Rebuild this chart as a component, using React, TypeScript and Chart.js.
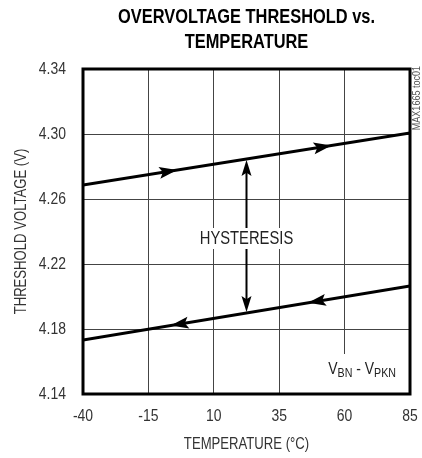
import React, { useEffect, useRef } from "react";
import { Chart, registerables } from "chart.js";

Chart.register(...registerables);

const temperatureRange = [-40, 85];
const risingThreshold = [4.2686, 4.3006];
const fallingThreshold = [4.1732, 4.2065];
const xTickValues = [-40, -15, 10, 35, 60, 85];
const yTickValues = [4.14, 4.18, 4.22, 4.26, 4.3, 4.34];
const risingArrowTemps = [-4, 55];
const fallingArrowTemps = [46, -6.5];
const hysteresisTemp = 22.5;
const hysteresisLabelValue = 4.236;
const hysteresisLabel = "HYSTERESIS";
const titleLines = ["OVERVOLTAGE THRESHOLD vs.", "TEMPERATURE"];
const xAxisTitle = "TEMPERATURE (°C)";
const yAxisTitle = "THRESHOLD VOLTAGE (V)";
const conditionParts: [string, boolean][] = [
  ["V", false],
  ["BN", true],
  [" - V", false],
  ["PKN", true],
];
const sideNote = "MAX1665 toc01";

const FONT = '"Liberation Sans", Arial, sans-serif';
const NARROW = 0.82;

// Condense all canvas text horizontally (the original uses a narrow Helvetica).
function condenseText(ctx: any) {
  if (ctx.__condensed) return;
  const orig = ctx.fillText.bind(ctx);
  ctx.fillText = (text: string, x: number, y: number, maxWidth?: number) => {
    ctx.save();
    ctx.translate(x, y);
    ctx.scale(NARROW, 1);
    if (maxWidth !== undefined) orig(text, 0, 0, maxWidth / NARROW);
    else orig(text, 0, 0);
    ctx.restore();
  };
  ctx.__condensed = true;
}

const along = (arr: number[], t: number) =>
  arr[0] + ((arr[1] - arr[0]) * (t - temperatureRange[0])) / (temperatureRange[1] - temperatureRange[0]);

function arrowHead(ctx: CanvasRenderingContext2D, x: number, y: number, angle: number, len: number, half: number) {
  ctx.save();
  ctx.translate(x, y);
  ctx.rotate(angle);
  ctx.beginPath();
  ctx.moveTo(0, 0);
  ctx.lineTo(-len, -half);
  ctx.lineTo(-len * 0.8, 0);
  ctx.lineTo(-len, half);
  ctx.closePath();
  ctx.fillStyle = "#000";
  ctx.fill();
  ctx.restore();
}

const annotationPlugin = {
  id: "annotations",
  afterDatasetsDraw(chart: any) {
    const ctx: CanvasRenderingContext2D = chart.ctx;
    const xs = chart.scales.x;
    const ys = chart.scales.y;
    const px = (t: number) => xs.getPixelForValue(t);
    const py = (v: number) => ys.getPixelForValue(v);

    const dirAngle = (arr: number[]) =>
      Math.atan2(py(arr[1]) - py(arr[0]), px(temperatureRange[1]) - px(temperatureRange[0]));
    risingArrowTemps.forEach((t) => arrowHead(ctx, px(t), py(along(risingThreshold, t)), dirAngle(risingThreshold), 18, 6));
    fallingArrowTemps.forEach((t) =>
      arrowHead(ctx, px(t), py(along(fallingThreshold, t)), dirAngle(fallingThreshold) + Math.PI, 18, 6)
    );

    const hx = px(hysteresisTemp);
    const yTop = py(along(risingThreshold, hysteresisTemp)) + 1;
    const yBot = py(along(fallingThreshold, hysteresisTemp)) - 1;
    ctx.save();
    ctx.strokeStyle = "#000";
    ctx.lineWidth = 2;
    ctx.beginPath();
    ctx.moveTo(hx, yTop + 10);
    ctx.lineTo(hx, yBot - 10);
    ctx.stroke();
    ctx.restore();
    arrowHead(ctx, hx, yTop, -Math.PI / 2, 16, 5);
    arrowHead(ctx, hx, yBot, Math.PI / 2, 16, 5);

    // hysteresis label
    ctx.save();
    ctx.font = `18px ${FONT}`;
    const ly = py(hysteresisLabelValue);
    const w = ctx.measureText(hysteresisLabel).width * NARROW;
    ctx.fillStyle = "#fff";
    ctx.fillRect(hx - w / 2 - 4, ly - 10, w + 8, 21);
    ctx.fillStyle = "#222";
    ctx.textAlign = "center";
    ctx.textBaseline = "middle";
    ctx.fillText(hysteresisLabel, hx, ly + 1);
    ctx.restore();

    // condition label bottom right
    ctx.save();
    const area = chart.chartArea;
    let total = 0;
    conditionParts.forEach(([s, sub]) => {
      ctx.font = `${sub ? 13 : 17}px ${FONT}`;
      total += ctx.measureText(s).width * NARROW;
    });
    const endX = area.right - 14;
    const baseY = area.bottom - 20;
    ctx.fillStyle = "#fff";
    ctx.fillRect(endX - total - 6, area.bottom - 40, total + 10, 40);
    let cx = endX - total;
    ctx.fillStyle = "#222";
    ctx.textBaseline = "alphabetic";
    ctx.textAlign = "left";
    conditionParts.forEach(([s, sub]) => {
      ctx.font = `${sub ? 13 : 17}px ${FONT}`;
      ctx.fillText(s, cx, sub ? baseY + 3 : baseY);
      cx += ctx.measureText(s).width * NARROW;
    });
    ctx.restore();
  },
  afterDraw(chart: any) {
    const ctx: CanvasRenderingContext2D = chart.ctx;
    const a = chart.chartArea;
    ctx.save();
    ctx.strokeStyle = "#000";
    ctx.lineWidth = 3;
    ctx.strokeRect(a.left, a.top, a.right - a.left, a.bottom - a.top);
    ctx.translate(a.right + 7, a.top - 3);
    ctx.rotate(-Math.PI / 2);
    ctx.font = `11px ${FONT}`;
    ctx.fillStyle = "#555";
    ctx.textAlign = "right";
    ctx.textBaseline = "middle";
    ctx.fillText(sideNote, 0, 0);
    ctx.restore();
  },
};

export default function App() {
  const ref = useRef<HTMLCanvasElement>(null);
  useEffect(() => {
    if (!ref.current) return;
    condenseText(ref.current.getContext("2d"));
    const chart = new Chart(ref.current, {
      type: "line",
      data: {
        datasets: [
          {
            label: "Rising",
            data: temperatureRange.map((t, i) => ({ x: t, y: risingThreshold[i] })),
            borderColor: "#000",
            borderWidth: 3,
            pointRadius: 0,
            fill: false,
          },
          {
            label: "Falling",
            data: temperatureRange.map((t, i) => ({ x: t, y: fallingThreshold[i] })),
            borderColor: "#000",
            borderWidth: 3,
            pointRadius: 0,
            fill: false,
          },
        ],
      },
      options: {
        responsive: false,
        animation: false,
        layout: { padding: { left: 0, right: 12, top: 0, bottom: 0 } },
        plugins: {
          legend: { display: false },
          tooltip: { enabled: false },
          title: {
            display: true,
            fullSize: false,
            text: titleLines,
            color: "#000",
            font: { family: FONT, size: 20, weight: "bold", lineHeight: 1.25 },
            padding: { top: 5, bottom: 14 },
          },
        },
        scales: {
          x: {
            type: "linear",
            min: -40,
            max: 85,
            afterBuildTicks: (s: any) => {
              s.ticks = xTickValues.map((v) => ({ value: v }));
            },
            afterFit: (s: any) => {
              s.height = 64;
              s.paddingLeft = 0;
              s.paddingRight = 0;
            },
            grid: { color: "#444", lineWidth: 1, drawTicks: false },
            border: { display: false },
            ticks: {
              color: "#333",
              font: { family: FONT, size: 17 },
              padding: 12,
              maxRotation: 0,
              callback: (v: any) => String(v),
            },
            title: {
              display: true,
              text: xAxisTitle,
              color: "#333",
              font: { family: FONT, size: 16 },
              padding: { top: 2, bottom: 4 },
            },
          },
          y: {
            type: "linear",
            min: 4.14,
            max: 4.34,
            afterBuildTicks: (s: any) => {
              s.ticks = yTickValues.map((v) => ({ value: v }));
            },
            afterFit: (s: any) => {
              s.width = 83;
            },
            grid: { color: "#444", lineWidth: 1, drawTicks: false },
            border: { display: false },
            ticks: {
              color: "#333",
              font: { family: FONT, size: 17 },
              padding: 17,
              callback: (v: any) => Number(v).toFixed(2),
            },
            title: {
              display: true,
              text: yAxisTitle,
              color: "#333",
              font: { family: FONT, size: 16 },
              padding: { top: 12, bottom: 0 },
            },
          },
        },
      },
      plugins: [annotationPlugin],
    });
    return () => chart.destroy();
  }, []);
  return (
    <div style={{ position: "fixed", left: 0, top: 0, width: 422, height: 458, background: "#fff" }}>
      <canvas ref={ref} width={422} height={458} />
    </div>
  );
}
